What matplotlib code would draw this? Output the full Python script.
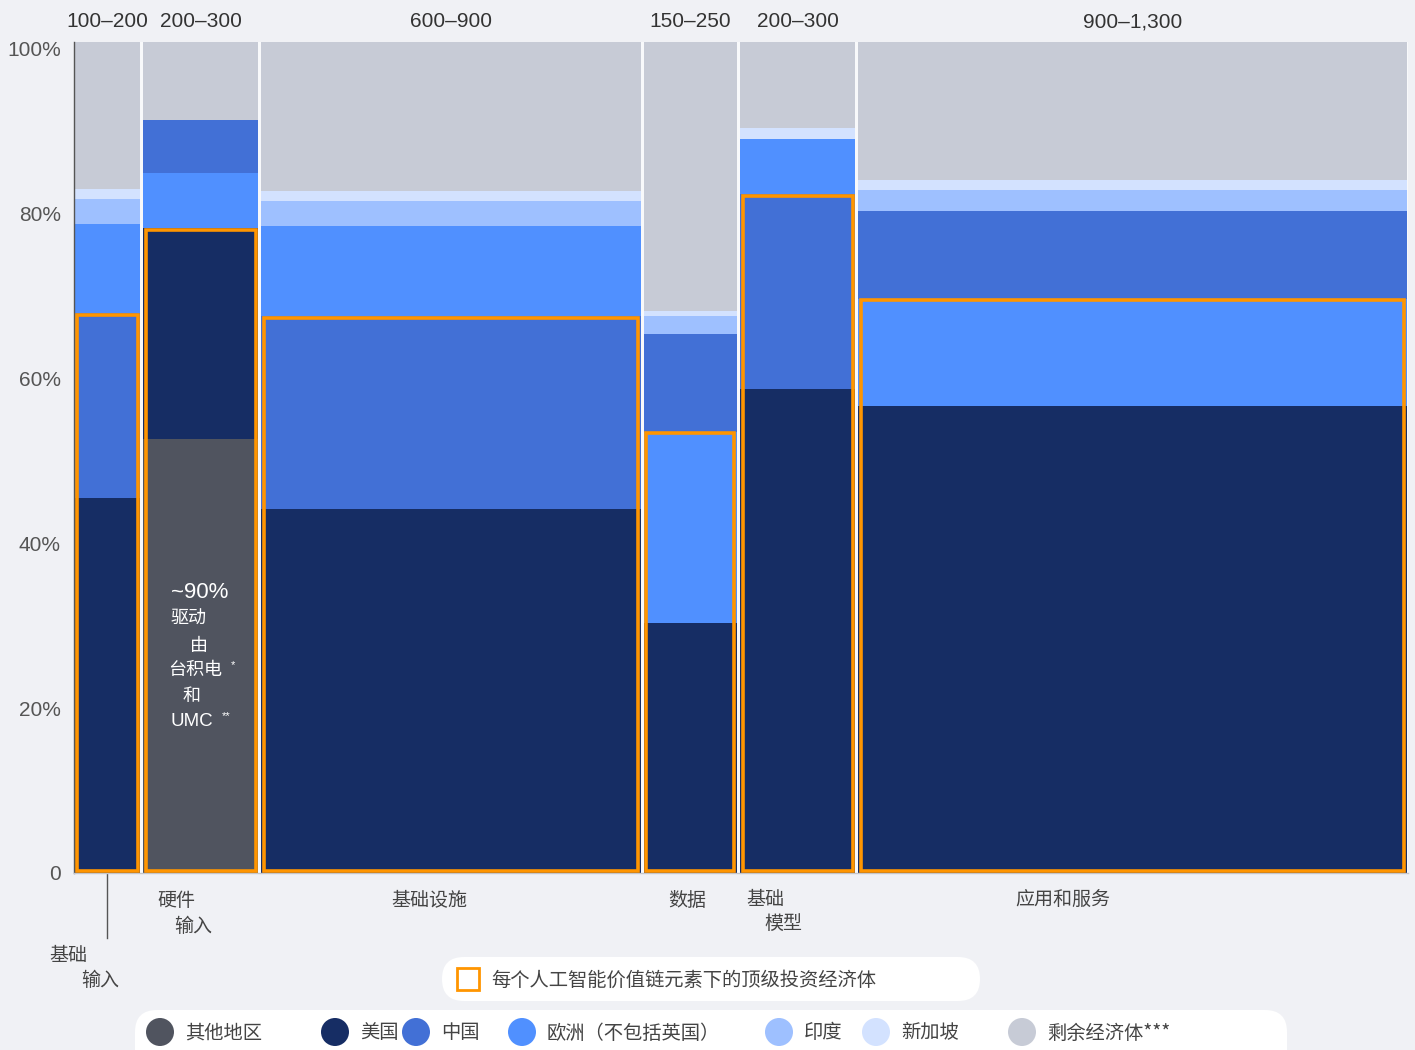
import matplotlib
matplotlib.use('Agg')
import matplotlib.pyplot as plt
from matplotlib.patches import Rectangle, FancyBboxPatch, Circle
from matplotlib.transforms import ScaledTranslation
import numpy as np

plt.rcParams['font.family'] = ['Noto Sans CJK SC', 'DejaVu Sans']
LATIN = ['Liberation Sans', 'DejaVu Sans']

# value chain elements, spend ranges and column widths (market size)
spend = ['100–200', '200–300', '600–900', '150–250', '200–300', '900–1,300']
widths = [69, 118, 382, 96, 118, 551]

# share of investment per economy (%), one value per column
regions = ['其他地区', '美国', '中国', '欧洲（不包括英国）', '印度', '新加坡', '剩余经济体***']
other = [0, 52.2, 0, 0, 0, 0]
us = [45.1, 25.4, 43.8, 30.1, 58.2, 56.2]
china = [22.3, 6.4, 23.2, 11.8, 23.5, 10.6]
europe = [10.7, 6.6, 10.9, 23.0, 6.6, 12.9]
india = [3.0, 0, 3.0, 2.1, 0, 2.5]
singapore = [1.2, 0, 1.2, 0.6, 1.3, 1.2]
rest = [100 - sum(v) for v in zip(other, us, china, europe, india, singapore)]

colors = ['#50545f', '#162d64', '#4270d6', '#5090ff', '#9ec0ff', '#d3e2ff', '#c7cbd6']
shares = dict(zip(regions, [other, us, china, europe, india, singapore, rest]))

# stacking order per column (bottom to top)
order_a = ['其他地区', '美国', '中国', '欧洲（不包括英国）', '印度', '新加坡', '剩余经济体***']
order_b = ['其他地区', '美国', '欧洲（不包括英国）', '中国', '印度', '新加坡', '剩余经济体***']
stack_order = [order_a, order_b, order_a, order_b, order_a, order_b]

# top investing economies per column (orange outline)
top_investors = [['美国', '中国'], ['其他地区', '美国'], ['美国', '中国'],
                 ['美国', '欧洲（不包括英国）'], ['美国', '中国'], ['美国', '欧洲（不包括英国）']]

W, H = 1415, 1050
BG = '#f0f1f5'
ORANGE = '#ff9500'
GAP = 3

fig = plt.figure(figsize=(W / 100, H / 100), dpi=100, facecolor=BG)
ax = fig.add_axes([74 / W, 1 - 873 / H, 1334 / W, 831 / H])
ax.set_facecolor('#f8f9fb')

lefts = np.concatenate([[0], np.cumsum(widths)[:-1]])
color_of = dict(zip(regions, colors))

for i, (x0, w) in enumerate(zip(lefts, widths)):
    bottom = 0
    for r in stack_order[i]:
        v = shares[r][i]
        if v <= 0:
            continue
        ax.bar(x0, v, width=w - GAP, bottom=bottom, align='edge',
               color=color_of[r], linewidth=0)
        bottom += v
    top = sum(shares[r][i] for r in top_investors[i])
    ax.add_patch(Rectangle((x0 + 2.5, 0.25), w - GAP - 5, top - 0.45,
                           fill=False, edgecolor=ORANGE, linewidth=2.6, zorder=5))
    ax.text(x0 + (w - GAP) / 2, 102.45, spend[i], ha='center', va='center',
            fontsize=15, color='#333333', family=LATIN, clip_on=False)

ax.set_xlim(0, sum(widths) - GAP + 1)
ax.set_ylim(0, 100)
ax.set_xticks([])
yt = [0, 20, 40, 60, 80, 100]
ax.set_yticks(yt)
ax.set_yticklabels(['0', '20%', '40%', '60%', '80%', '100%'], family=LATIN)
ax.tick_params(axis='y', length=0, pad=9.5, labelsize=15, labelcolor='#555555')
# labels in the original sit a little lower toward the top
for v, lab in zip(yt, ax.get_yticklabels()):
    lab.set_transform(lab.get_transform() +
                      ScaledTranslation(0, -v / 100 * 0.07, fig.dpi_scale_trans))
for s in ['top', 'right']:
    ax.spines[s].set_visible(False)
ax.spines['left'].set_color('#555555')
ax.spines['left'].set_linewidth(1)
ax.spines['bottom'].set_color('#c4c6cc')
ax.spines['bottom'].set_linewidth(1)

# pointer line for the first (narrow) column label
ax.plot([33, 33], [0, -7.8], color='#555555', linewidth=1, clip_on=False)

# overlay in pixel coordinates for labels and legends
ov = fig.add_axes([0, 0, 1, 1], facecolor='none')
ov.set_xlim(0, W)
ov.set_ylim(H, 0)
ov.axis('off')

cat_lines = [('硬件', 157, 900), ('输入', 174, 926), ('基础设施', 391, 900),
             ('数据', 668, 900), ('基础', 746, 900), ('模型', 764, 923),
             ('应用和服务', 1015, 900), ('基础', 49, 956), ('输入', 81, 981)]
for t, x, y in cat_lines:
    ov.text(x, y, t, ha='left', va='center', fontsize=13.7, color='#444444')

# annotation inside hardware column
ov.text(171, 593, '~90%', ha='left', va='center', fontsize=16, color='white', family=LATIN)
note = [('驱动', 170, 619), ('由', 190, 646), ('台积电', 168, 670), ('和', 183, 696)]
for t, x, y in note:
    ov.text(x, y, t, ha='left', va='center', fontsize=13, color='white')
ov.text(171, 722, 'UMC', ha='left', va='center', fontsize=13.5, color='white', family=LATIN)
ov.text(231, 665, '*', ha='left', va='center', fontsize=8, color='white', family=LATIN)
ov.text(222, 716, '**', ha='left', va='center', fontsize=8, color='white', family=LATIN)

# legend 1: top investing economy
ov.add_patch(FancyBboxPatch((442, 957), 538, 44, boxstyle='round,pad=0,rounding_size=22',
                            facecolor='white', edgecolor='none'))
ov.add_patch(Rectangle((457, 968), 22, 22, facecolor='white', edgecolor=ORANGE, linewidth=2))
ov.text(491, 980, '每个人工智能价值链元素下的顶级投资经济体', ha='left', va='center',
        fontsize=13.9, color='#444444')

# legend 2: economies
ov.add_patch(FancyBboxPatch((135, 1010), 1152, 70, boxstyle='round,pad=0,rounding_size=22',
                            facecolor='white', edgecolor='none'))
leg_x = [160, 335, 416, 522, 779, 876, 1022]
for r, c, x in zip(regions, colors, leg_x):
    ov.add_patch(Circle((x, 1032), 14, facecolor=c, edgecolor='none'))
    ov.text(x + 25, 1033, r, ha='left', va='center', fontsize=13.9, color='#444444')

fig.savefig('out.png', dpi=100, facecolor=BG)
